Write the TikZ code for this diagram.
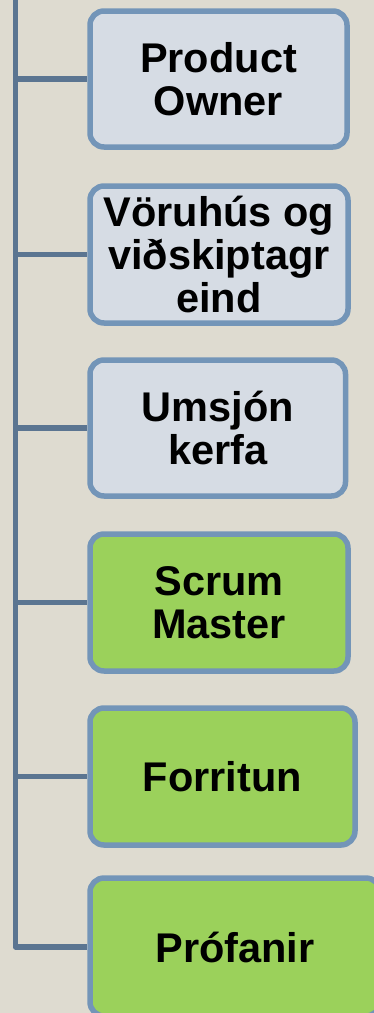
\documentclass[tikz,border=0pt]{standalone}
\usepackage{fontspec}
\setmainfont{Liberation Sans}
\definecolor{bgc}{HTML}{DEDBD0}
\definecolor{boxblue}{HTML}{D6DCE4}
\definecolor{boxgreen}{HTML}{9BD15B}
\definecolor{edgec}{HTML}{7395B8}
\definecolor{linkc}{HTML}{5B7591}
\begin{document}
\begin{tikzpicture}[x=1pt,y=-1pt,
  rolebox/.style={draw=edgec, line width=5.5pt, rounded corners=14pt, align=center,
    inner sep=0pt, font=\fontsize{41.5}{43}\selectfont\bfseries, text=black},
  bluebox/.style={rolebox, fill=boxblue},
  greenbox/.style={rolebox, fill=boxgreen},
  link/.style={draw=linkc, line width=5.5pt, line join=round}]
\useasboundingbox (0,0) rectangle (374,1013);
\fill[bgc] (0,0) rectangle (374,1013);
\node[bluebox, minimum width=257pt, minimum height=136pt] (b1) at (218.5,79) {Product\\Owner};
\node[bluebox, minimum width=258pt, minimum height=137pt] (b2) at (219,254.5) {Vöruhús og\\viðskiptagr\\eind};
\node[bluebox, minimum width=255.5pt, minimum height=136pt] (b3) at (217.75,428) {Umsjón\\kerfa};
\node[greenbox, minimum width=258pt, minimum height=137pt] (b4) at (219,602.5) {Scrum\\Master};
\node[greenbox, minimum width=265pt, minimum height=137pt] (b5) at (222.5,776.5) {Forritun};
\node[greenbox, minimum width=290pt, minimum height=138pt] (b6) at (235,947) {Prófanir};
\coordinate (top) at (15.5,-5);
\path[link] (top) |- (b6.west);
\foreach \b in {b1,b2,b3,b4,b5}{
  \path[link] (top |- \b.west) -- (\b.west);
}
\end{tikzpicture}
\end{document}
